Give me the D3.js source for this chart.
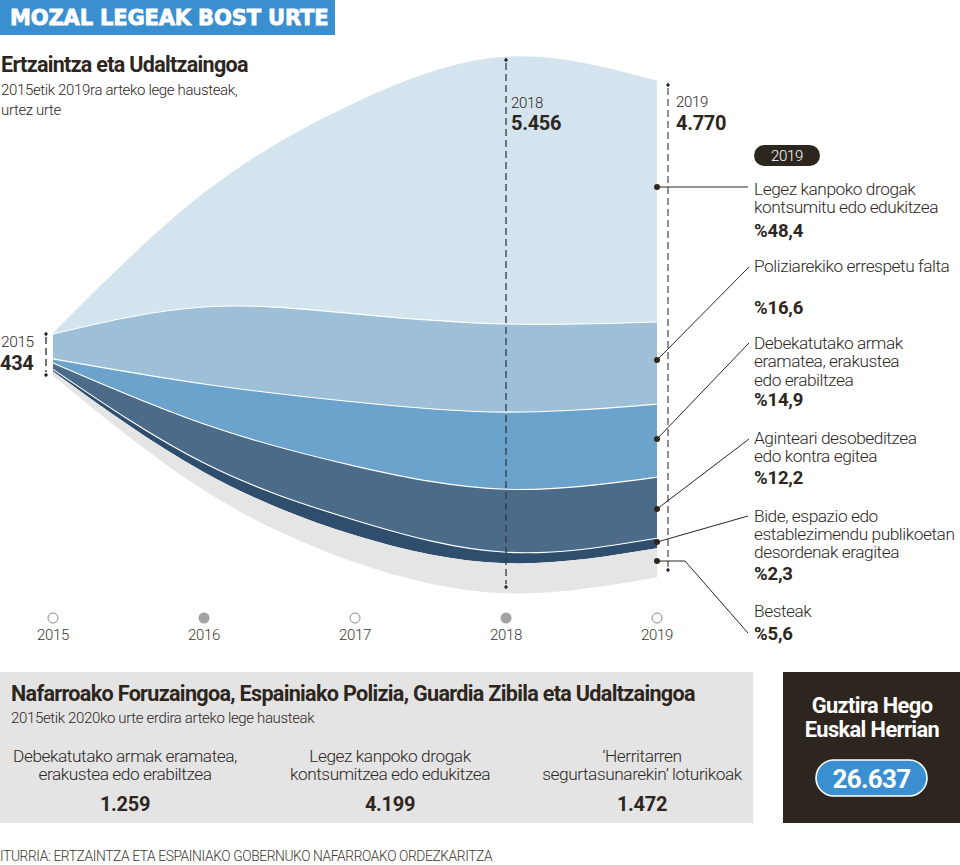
<!DOCTYPE html>
<html><head><meta charset="utf-8">
<script src="https://cdnjs.cloudflare.com/ajax/libs/d3/7.8.5/d3.min.js"></script>
<style>
html,body{margin:0;padding:0;background:#fff}
svg{display:block}
text{font-family:Roboto,sans-serif;fill:#2d261e}
.l{font-weight:300}
.b{font-weight:700}
</style></head><body>
<svg id="c" width="960" height="865"></svg>
<script>
const years=[2015,2016,2017,2018,2019];
const categories=["drogak","errespetua","armak","desobeditzea","desordenak","besteak"];
const drogak=[10,1160,2148,2718,2453];
const errespetua=[254,784,896,896,835];
const armak=[42,407,652,784,743];
const desobeditzea=[64,397,550,641,621];
const desordenak=[21,92,153,112,102];
const besteak=[43,183,275,305,295];
const streamCenter=[-247,-117,-25,51,10];
const seriesColors=["#d4e4ef","#9dc0d8","#6ba3cd","#4c6b89","#2f4d6c","#e5e5e5"];
const legendLabels=[["Legez kanpoko drogak","kontsumitu edo edukitzea"],["Poliziarekiko errespetu falta"],["Debekatutako armak","eramatea, erakustea","edo erabiltzea"],["Aginteari desobeditzea","edo kontra egitea"],["Bide, espazio edo","establezimendu publikoetan","desordenak eragitea"],["Besteak"]];
const legendPct=["%48,4","%16,6","%14,9","%12,2","%2,3","%5,6"];
const totals=["434","5.456","4.770"];
const bottomCols=[["Debekatutako armak eramatea,","erakustea edo erabiltzea"],["Legez kanpoko drogak","kontsumitzea edo edukitzea"],["‘Herritarren","segurtasunarekin’ loturikoak"]];
const bottomVals=["1.259","4.199","1.472"];

const svg=d3.select("#c");
function T(x,y,s,size,cls,opt={}){
  const t=svg.append("text").attr("x",x).attr("y",y).text(s).attr("font-size",size).attr("class",cls)
   .attr("letter-spacing",opt.ls??-0.5).attr("text-anchor",opt.anchor||"start");
  if(opt.fill)t.style("fill",opt.fill);
  if(opt.family)t.style("font-family",opt.family);
  return t;
}
// header
svg.append("rect").attr("width",335).attr("height",35).attr("fill","#3a8fd0");
T(10,24.5,"MOZAL LEGEAK BOST URTE",21,"b",{fill:"#fff",family:"'DejaVu Sans'",ls:-0.15}).style("font-weight",700).attr("stroke","#fff").attr("stroke-width",0.8);
T(1,72,"Ertzaintza eta Udaltzaingoa",21.5,"b",{ls:-0.7});
T(1,95,"2015etik 2019ra arteko lege hausteak,",15,"l",{ls:-0.35});
T(1,115,"urtez urte",15,"l",{ls:-0.35});

// stream
const x=d3.scaleLinear().domain([2015,2019]).range([53,657]);
const y=d3.scaleLinear().domain([-3000,3000]).range([625,35]);
const table=years.map((yr,i)=>({year:yr,drogak:drogak[i],errespetua:errespetua[i],armak:armak[i],desobeditzea:desobeditzea[i],desordenak:desordenak[i],besteak:besteak[i]}));
const stack=d3.stack().keys(categories).offset((series,order)=>{
  // stack downward from the top edge of the stream, around its centre line
  const n=series[0].length;
  for(let j=0;j<n;j++){
    let total=0;for(const i of order)total+=series[i][j][1]-series[i][j][0];
    let top=streamCenter[j]+total/2;
    for(const i of order){const h=series[i][j][1]-series[i][j][0];series[i][j][1]=top;series[i][j][0]=top-h;top-=h;}
  }
});
const layers=stack(table);
const curve=d3.curveNatural;
const area=d3.area().x(d=>x(d.data.year)).y0(d=>y(d[0])).y1(d=>y(d[1])).curve(curve);
svg.append("g").selectAll("path").data(layers).join("path").attr("d",area).attr("fill",(d,i)=>seriesColors[i]);
const line=d3.line().x(d=>x(d.data.year)).y(d=>y(d[0])).curve(curve);
svg.append("g").selectAll("path").data(layers.slice(0,4)).join("path").attr("d",line).attr("fill","none").attr("stroke","#fff").attr("stroke-width",1.1);

// dashed measures
function measure(px,y0,y1,col){
  svg.append("line").attr("x1",px).attr("x2",px).attr("y1",y0+3).attr("y2",y1-3).attr("stroke",col).attr("stroke-width",1.3).attr("stroke-dasharray","7 4");
  [y0,y1].forEach(yy=>svg.append("path").attr("d",`M${px},${yy-2.2}L${px+2},${yy}L${px},${yy+2.2}L${px-2},${yy}Z`).attr("fill","#2d261e"));
}
measure(46,334,375,"#2d261e");
measure(506,60,587,"#2d3a46");
measure(668,85,570,"#555");

T(1,347,"2015",15.5,"l",{ls:-0.4});
T(0,370,totals[0],20,"b",{ls:-0.3});
T(511,108,"2018",15,"l",{ls:-0.3});
T(511,130,totals[1],20,"b",{ls:-0.3});
T(676,107,"2019",15,"l",{ls:-0.3});
T(676,130,totals[2],20,"b",{ls:-0.3});

// timeline
svg.append("g").selectAll("circle").data(years).join("circle").attr("cx",d=>x(d)).attr("cy",618).attr("r",(d,i)=>i%2?5.5:5)
  .attr("fill",(d,i)=>i%2?"#a3a3a3":"#fff").attr("stroke",(d,i)=>i%2?"none":"#8a8a8a").attr("stroke-width",1);
years.forEach(d=>T(x(d),640,d,15,"l",{anchor:"middle",ls:-0.3,fill:"#3c3730"}));

// pill
svg.append("rect").attr("x",754).attr("y",145).attr("width",66).attr("height",21).attr("rx",10.5).attr("fill","#2d261e");
T(787,161,"2019",15,"l",{anchor:"middle",fill:"#fff",ls:-0.3});

// leaders
const leaders=[
 [[657,187],[748,187]],
 [[657,360],[749,267]],
 [[657,439],[749,343]],
 [[657,509],[749,439]],
 [[657,542],[748,516]],
 [[657,561],[685,561],[748,633]]];
leaders.forEach(p=>{
  svg.append("path").attr("d",d3.line()(p)).attr("fill","none").attr("stroke","#2d261e").attr("stroke-width",1);
  svg.append("circle").attr("cx",p[0][0]).attr("cy",p[0][1]).attr("r",3).attr("fill","#2d261e");
});
const legY=[[195,213,237],[272,314],[349,367,386,406],[444,462,484],[522,540,558,580],[617,640]];
legendLabels.forEach((ls,i)=>{
  ls.forEach((s,j)=>T(754,legY[i][j],s,17.3,"l",{ls:-0.45}));
  T(754,legY[i][ls.length],legendPct[i],18.5,"b",{ls:-0.2});
});

// bottom panel
svg.append("rect").attr("x",0).attr("y",672).attr("width",753).attr("height",151).attr("fill","#e4e4e4");
T(11,701,"Nafarroako Foruzaingoa, Espainiako Polizia, Guardia Zibila eta Udaltzaingoa",21.6,"b",{ls:-0.7});
T(11,723,"2015etik 2020ko urte erdira arteko lege hausteak",15,"l",{ls:-0.35});
[125,390,642].forEach((cx,i)=>{
  T(cx,762,bottomCols[i][0],17.3,"l",{anchor:"middle",ls:-0.45});
  T(cx,780,bottomCols[i][1],17.3,"l",{anchor:"middle",ls:-0.45});
  T(cx,811,bottomVals[i],20,"b",{anchor:"middle",ls:-0.3});
});
svg.append("rect").attr("x",783).attr("y",672).attr("width",177).attr("height",151).attr("fill","#2d261e");
T(872,713,"Guztira Hego",21.8,"b",{anchor:"middle",fill:"#fff",ls:-0.6});
T(872,737,"Euskal Herrian",21.8,"b",{anchor:"middle",fill:"#fff",ls:-0.6});
svg.append("rect").attr("x",816).attr("y",760).attr("width",111).attr("height",36).attr("rx",18).attr("fill","#3a8fd0").attr("stroke","#fff").attr("stroke-width",1.6);
T(871.5,788,"26.637",26,"b",{anchor:"middle",fill:"#fff",ls:-0.7});
T(0,861,"ITURRIA: ERTZAINTZA ETA ESPAINIAKO GOBERNUKO NAFARROAKO ORDEZKARITZA",13.8,"l",{ls:-0.4,fill:"#3c3730"});
</script></body></html>
